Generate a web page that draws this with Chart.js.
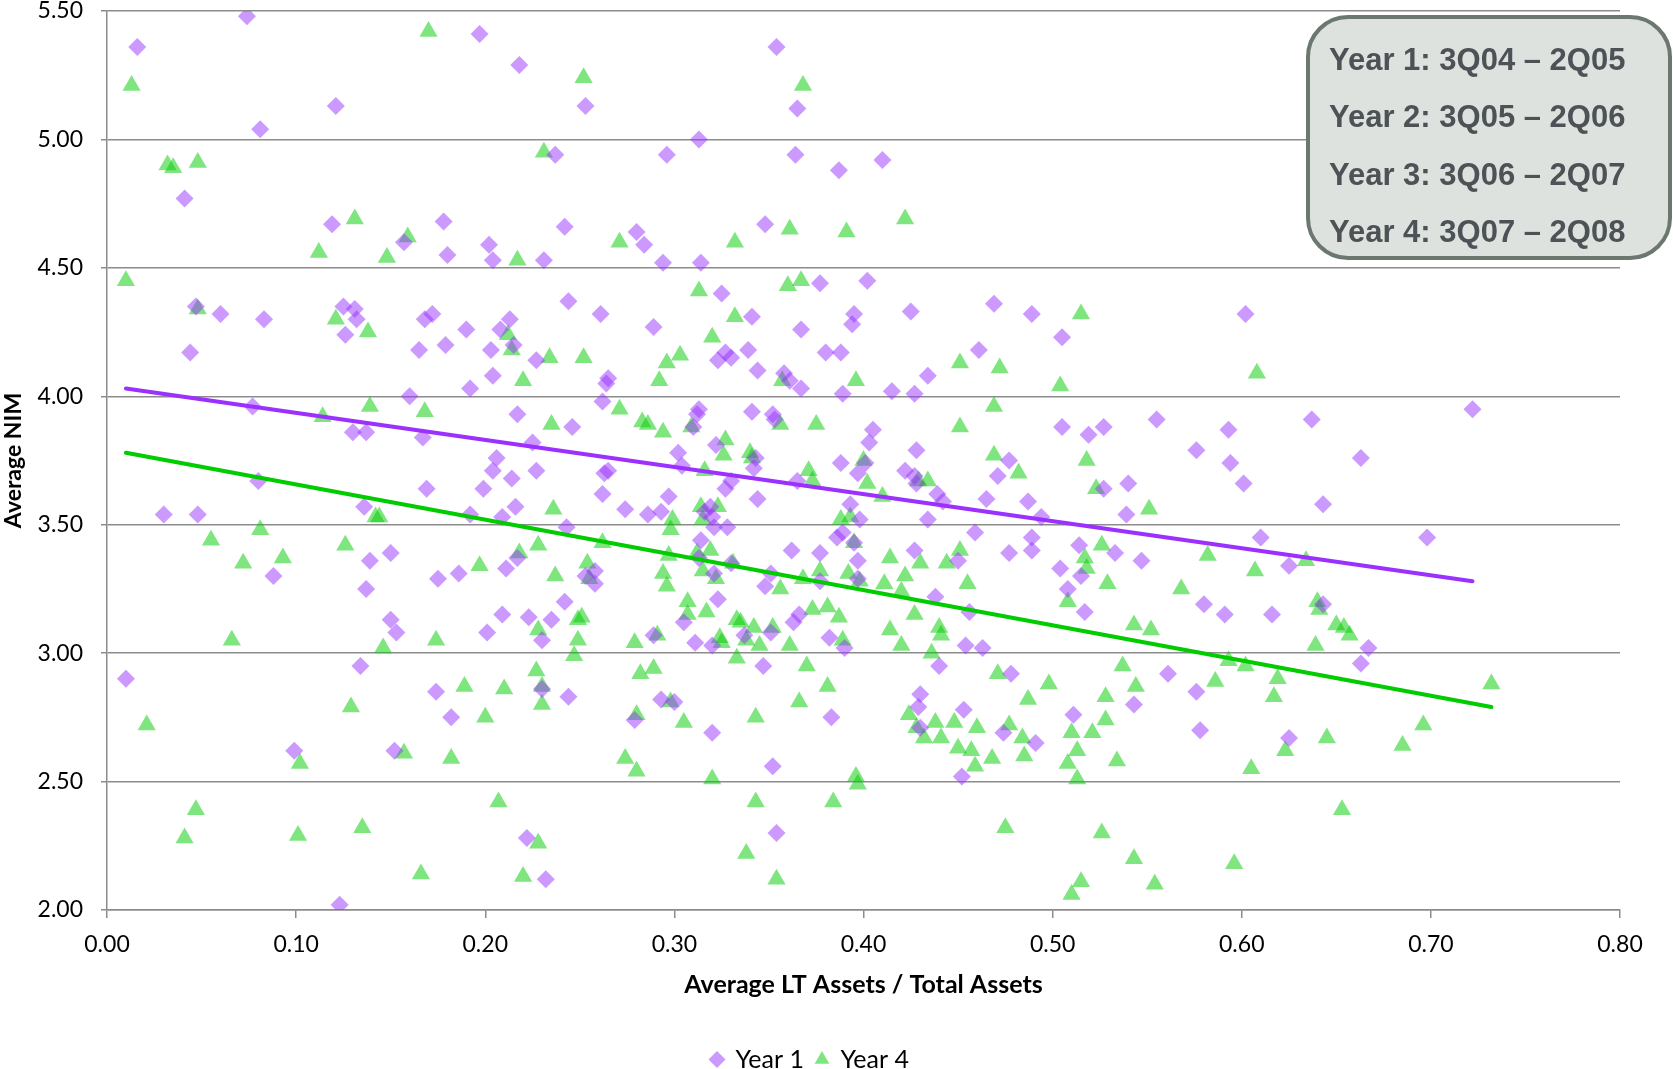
<!DOCTYPE html>
<html>
<head>
<meta charset="utf-8">
<script src="https://cdn.jsdelivr.net/npm/chart.js@4.4.1/dist/chart.umd.min.js"></script>
<style>
  body { margin: 0; background: #fff; }
  #wrap { width: 1673px; height: 1069px; position: relative; }
</style>
</head>
<body>
<div id="wrap"><canvas id="nimChart"></canvas></div>
<script>
// Year 1 points (LT assets ratio, NIM)
const year1X = [0.010,0.016,0.074,0.081,0.041,0.121,0.197,0.218,0.044,0.047,0.060,0.083,0.077,0.080,0.030,0.048,0.088,0.099,0.119,0.125,
  0.126,0.131,0.132,0.130,0.137,0.136,0.139,0.137,0.134,0.150,0.153,0.150,0.152,0.123,0.157,0.165,0.168,0.172,0.160,0.167,
  0.169,0.175,0.174,0.182,0.178,0.180,0.179,0.186,0.190,0.192,0.192,0.202,0.204,0.203,0.204,0.206,0.204,0.199,0.209,0.201,
  0.209,0.208,0.213,0.215,0.211,0.214,0.217,0.216,0.217,0.225,0.227,0.227,0.223,0.222,0.231,0.237,0.242,0.244,0.230,0.232,
  0.235,0.230,0.243,0.242,0.244,0.246,0.253,0.253,0.258,0.261,0.262,0.262,0.264,0.265,0.265,0.263,0.258,0.274,0.280,0.284,
  0.289,0.286,0.289,0.279,0.294,0.296,0.293,0.293,0.300,0.297,0.302,0.304,0.305,0.310,0.313,0.314,0.312,0.313,0.311,0.313,
  0.314,0.316,0.319,0.320,0.321,0.323,0.325,0.322,0.320,0.320,0.323,0.321,0.327,0.330,0.327,0.328,0.330,0.330,0.337,0.339,
  0.341,0.341,0.344,0.343,0.342,0.344,0.347,0.348,0.348,0.352,0.353,0.351,0.351,0.354,0.352,0.354,0.358,0.361,0.362,0.363,
  0.365,0.365,0.364,0.366,0.367,0.367,0.377,0.377,0.377,0.380,0.382,0.383,0.387,0.388,0.388,0.389,0.389,0.386,0.390,0.393,
  0.394,0.395,0.397,0.398,0.397,0.397,0.395,0.401,0.402,0.403,0.405,0.410,0.415,0.422,0.425,0.427,0.428,0.427,0.428,0.427,
  0.430,0.429,0.430,0.434,0.434,0.438,0.439,0.442,0.440,0.450,0.452,0.453,0.456,0.454,0.459,0.461,0.463,0.465,0.469,0.471,
  0.474,0.477,0.477,0.478,0.487,0.489,0.489,0.489,0.491,0.494,0.505,0.505,0.504,0.508,0.511,0.515,0.514,0.517,0.519,0.527,
  0.527,0.533,0.540,0.539,0.543,0.547,0.555,0.561,0.576,0.576,0.578,0.580,0.591,0.593,0.594,0.601,0.602,0.610,0.616,0.625,
  0.625,0.637,0.643,0.643,0.663,0.663,0.667,0.698,0.722];
const year1Y = [2.90,5.36,5.48,5.04,4.77,5.13,5.41,5.29,4.17,4.35,4.32,4.30,3.96,3.67,3.54,3.54,3.30,2.62,4.67,4.35,
  4.24,4.34,4.30,3.86,3.86,3.57,3.36,3.25,2.95,3.13,3.08,3.39,2.62,2.02,4.60,4.18,4.30,4.32,4.00,3.84,
  3.64,3.29,2.85,2.75,4.68,4.55,4.20,3.31,4.26,4.03,3.54,4.59,4.53,4.18,4.08,3.76,3.71,3.64,3.53,3.08,
  3.15,4.26,4.30,4.20,3.33,3.68,3.93,3.57,3.37,3.82,4.14,3.71,3.14,2.28,4.53,4.94,4.66,4.37,3.05,2.12,
  3.13,2.86,3.49,3.20,2.83,3.88,5.13,3.30,3.27,4.32,3.98,3.62,4.05,4.07,3.71,3.70,3.32,3.56,4.64,4.59,
  4.27,3.54,3.07,2.74,4.52,4.94,3.55,2.82,2.81,3.61,3.78,3.73,3.12,3.88,5.00,4.52,3.93,3.95,3.04,3.37,
  3.44,3.55,3.57,3.53,3.49,4.14,4.40,3.81,2.69,3.03,3.21,3.31,4.17,4.15,3.64,3.49,3.67,3.35,3.07,4.18,
  4.31,3.94,4.10,3.76,3.72,3.60,2.95,4.67,3.26,3.93,3.91,3.08,3.31,5.36,2.56,2.30,4.09,4.06,3.40,3.12,
  3.67,5.12,4.94,3.15,4.26,4.03,4.44,3.39,3.28,4.17,3.06,2.75,4.88,4.17,3.74,3.47,4.01,3.45,3.02,3.58,
  4.28,4.32,3.70,3.52,3.36,3.29,3.43,3.74,4.45,3.82,3.87,4.92,4.02,3.71,4.33,4.01,3.79,3.69,3.66,3.40,
  2.84,2.79,2.71,4.08,3.52,3.22,3.62,3.59,2.95,3.36,2.52,2.78,3.16,3.03,3.47,4.18,3.02,3.60,4.36,3.69,
  2.69,3.39,3.75,2.92,3.59,3.45,3.40,4.32,2.65,3.53,4.23,3.88,3.33,3.25,2.76,3.30,3.42,3.16,3.85,3.64,
  3.88,3.39,3.66,3.54,2.80,3.36,3.91,2.92,2.85,3.79,2.70,3.19,3.15,3.87,3.74,3.66,4.32,3.45,3.15,3.34,
  2.67,3.91,3.58,3.19,3.76,2.96,3.02,3.45,3.95];

// Year 4 points
const year4X = [0.010,0.013,0.021,0.032,0.035,0.048,0.048,0.041,0.047,0.055,0.066,0.072,0.081,0.093,0.102,0.101,0.112,0.114,0.121,0.126,
  0.129,0.131,0.138,0.139,0.135,0.142,0.144,0.146,0.148,0.157,0.159,0.166,0.168,0.170,0.174,0.182,0.189,0.197,0.200,0.207,
  0.210,0.212,0.214,0.217,0.220,0.218,0.220,0.227,0.228,0.228,0.230,0.230,0.228,0.231,0.234,0.235,0.236,0.237,0.247,0.249,
  0.249,0.251,0.252,0.252,0.254,0.255,0.262,0.271,0.271,0.274,0.280,0.279,0.280,0.282,0.283,0.286,0.289,0.291,0.292,0.294,
  0.296,0.294,0.296,0.297,0.298,0.299,0.298,0.303,0.305,0.307,0.307,0.309,0.312,0.313,0.314,0.315,0.315,0.317,0.316,0.319,
  0.320,0.320,0.322,0.323,0.326,0.324,0.325,0.327,0.331,0.332,0.332,0.333,0.333,0.335,0.338,0.338,0.340,0.341,0.342,0.343,
  0.343,0.345,0.352,0.354,0.356,0.356,0.357,0.360,0.361,0.361,0.366,0.367,0.368,0.368,0.370,0.371,0.373,0.373,0.375,0.377,
  0.381,0.381,0.384,0.387,0.388,0.389,0.391,0.392,0.393,0.395,0.396,0.396,0.397,0.398,0.400,0.402,0.410,0.411,0.414,0.414,
  0.420,0.422,0.420,0.422,0.424,0.427,0.428,0.429,0.430,0.432,0.434,0.436,0.438,0.440,0.441,0.441,0.444,0.448,0.450,0.451,
  0.451,0.451,0.455,0.457,0.459,0.460,0.468,0.469,0.469,0.471,0.472,0.475,0.477,0.482,0.484,0.485,0.487,0.498,0.504,0.508,
  0.508,0.510,0.510,0.513,0.513,0.515,0.515,0.517,0.518,0.518,0.521,0.523,0.526,0.528,0.528,0.529,0.526,0.534,0.537,0.543,
  0.543,0.544,0.551,0.552,0.554,0.568,0.582,0.586,0.593,0.596,0.602,0.605,0.608,0.607,0.617,0.619,0.623,0.634,0.639,0.640,
  0.641,0.645,0.650,0.653,0.654,0.657,0.685,0.696,0.732];
const year4Y = [4.45,5.21,2.72,4.90,4.89,4.91,4.34,2.28,2.39,3.44,3.05,3.35,3.48,3.37,2.57,2.29,4.56,3.92,4.30,3.42,
  2.79,4.69,4.25,3.96,2.32,3.53,3.53,3.02,4.54,2.61,4.62,2.14,3.94,5.42,3.05,2.59,2.87,3.34,2.75,2.42,
  2.86,4.24,4.18,4.53,4.06,3.39,2.13,2.93,3.09,3.42,2.87,2.80,2.26,4.95,4.15,3.89,3.56,3.30,2.99,3.05,
  3.13,3.14,4.15,5.24,3.35,3.29,3.43,4.60,3.95,2.59,2.54,3.04,2.76,2.92,3.90,3.89,2.94,3.07,4.06,3.86,
  4.13,3.31,3.26,3.38,3.48,3.52,2.81,4.16,2.73,3.20,3.15,3.88,3.39,4.41,3.57,3.52,3.32,3.16,3.71,3.40,
  4.23,2.51,3.29,3.57,3.77,3.06,3.04,3.83,3.35,4.31,4.60,2.98,3.13,3.12,2.22,3.05,3.78,3.76,3.10,2.75,
  2.42,3.03,3.10,2.12,3.25,3.89,4.06,4.43,4.65,3.03,2.81,4.45,5.21,3.29,2.95,3.71,3.67,3.17,3.89,3.32,
  3.18,2.87,2.42,3.14,3.52,3.05,4.64,3.31,3.53,3.43,4.06,2.52,2.49,3.28,3.75,3.66,3.61,3.27,3.37,3.09,
  3.03,4.69,3.24,3.30,2.76,3.15,2.71,3.67,3.35,2.67,3.67,3.00,2.73,3.10,3.07,2.67,3.35,2.73,2.63,4.13,
  3.88,3.40,3.27,2.62,2.56,2.71,2.59,3.96,3.77,2.92,4.11,2.32,2.72,3.70,2.67,2.60,2.82,2.88,4.04,3.20,
  2.57,2.69,2.06,2.62,2.51,4.32,2.11,3.37,3.33,3.75,2.69,3.64,3.42,2.74,2.83,3.27,2.30,2.58,2.95,2.20,
  3.11,2.87,3.56,3.09,2.10,3.25,3.38,2.89,2.97,2.18,2.95,2.55,4.09,3.32,2.83,2.90,2.62,3.36,3.03,3.20,
  3.17,2.67,3.11,2.39,3.10,3.07,2.64,2.72,2.88];

// trend line end points
const trend1X = [0.010, 0.722];
const trend1Y = [4.03, 3.28];
const trend4X = [0.010, 0.732];
const trend4Y = [3.78, 2.79];

const periodLabels = ["Year 1: 3Q04 \u2013 2Q05", "Year 2: 3Q05 \u2013 2Q06", "Year 3: 3Q06 \u2013 2Q07", "Year 4: 3Q07 \u2013 2Q08"];

const toPoints = (xs, ys) => xs.map((x, i) => ({ x: x, y: ys[i] }));

// grey rounded box with the period list, top right
const periodBox = {
	id: "periodBox",
	afterDraw(chart) {
		const ctx = chart.ctx;
		const x = 1308, y = 17, w = 362, h = 241, r = 40;
		ctx.save();
		ctx.beginPath();
		ctx.roundRect(x, y, w, h, r);
		ctx.fillStyle = "#dde2de";
		ctx.fill();
		ctx.lineWidth = 4;
		ctx.strokeStyle = "#6b776f";
		ctx.stroke();
		ctx.fillStyle = "#4d5257";
		ctx.font = "bold 31px 'Liberation Sans', Arial, sans-serif";
		ctx.textBaseline = "middle";
		periodLabels.forEach((t, i) => {
			ctx.fillText(t, 1329, 61 + i * 57.5);
		});
		ctx.restore();
	},
};

const ctx = document.getElementById("nimChart").getContext("2d");

const chart = new Chart(ctx, {
	type: "scatter",
	data: {
		datasets: [
			{
				label: "Year 1",
				data: toPoints(year1X, year1Y),
				pointStyle: "rectRot",
				pointRadius: 9,
				pointHoverRadius: 9,
				backgroundColor: "rgba(153, 51, 255, 0.5)",
				borderWidth: 0,
				order: 2,
			},
			{
				label: "Year 4",
				data: toPoints(year4X, year4Y),
				pointStyle: "triangle",
				pointRadius: 10.5,
				pointHoverRadius: 10.5,
				backgroundColor: "rgba(0, 204, 0, 0.5)",
				borderWidth: 0,
				order: 2,
			},
			{
				label: "trend1",
				type: "line",
				data: toPoints(trend1X, trend1Y),
				borderColor: "#9b30ff",
				borderWidth: 4,
				borderCapStyle: "round",
				pointRadius: 0,
				fill: false,
				order: 1,
			},
			{
				label: "trend4",
				type: "line",
				data: toPoints(trend4X, trend4Y),
				borderColor: "#00cc00",
				borderWidth: 4,
				borderCapStyle: "round",
				pointRadius: 0,
				fill: false,
				order: 1,
			},
		],
	},
	options: {
		responsive: true,
		maintainAspectRatio: false,
		animation: false,
		layout: {
			padding: { left: 0, right: 53, top: 11, bottom: 0 },
		},
		plugins: {
			legend: {
				display: true,
				position: "bottom",
				maxHeight: 34,
				labels: {
					usePointStyle: true,
					boxWidth: 12,
					boxHeight: 12,
					padding: 12,
					color: "#000",
					font: { family: "Lato", size: 25 },
					filter: (item) => item.text.indexOf("trend") !== 0,
				},
			},
			tooltip: { enabled: false },
		},
		scales: {
			x: {
				type: "linear",
				min: 0,
				max: 0.8,
				ticks: {
					stepSize: 0.1,
					padding: 13,
					color: "#000",
					font: { family: "Lato", size: 23 },
					callback: (v) => v.toFixed(2),
				},
				grid: {
					drawOnChartArea: false,
					drawTicks: true,
					tickLength: 8,
					color: "#8c8c8c",
					lineWidth: 1.5,
				},
				border: { display: true, color: "#8c8c8c", width: 1.5 },
				title: {
					display: true,
					text: "Average LT Assets / Total Assets",
					color: "#000",
					font: { family: "Lato", size: 25, weight: "bold" },
					padding: { top: 0, bottom: 35 },
				},
				afterFit: (scale) => {
					scale.height = 125;
					scale.paddingLeft = 0;
					scale.paddingRight = 0;
				},
			},
			y: {
				min: 2,
				max: 5.5,
				ticks: {
					stepSize: 0.5,
					padding: 18,
					color: "#000",
					font: { family: "Lato", size: 23 },
					callback: (v) => v.toFixed(2),
				},
				grid: {
					color: "#8c8c8c",
					lineWidth: 1.5,
					tickLength: 6,
				},
				border: { display: true, color: "#8c8c8c", width: 1.5 },
				title: {
					display: true,
					text: "Average NIM",
					color: "#000",
					font: { family: "Lato", size: 23, weight: "bold" },
					padding: { top: 0, bottom: 0 },
				},
				afterFit: (scale) => {
					scale.width = 107;
					scale.paddingTop = 0;
					scale.paddingBottom = 0;
				},
			},
		},
	},
	plugins: [periodBox],
});
</script>
</body>
</html>
